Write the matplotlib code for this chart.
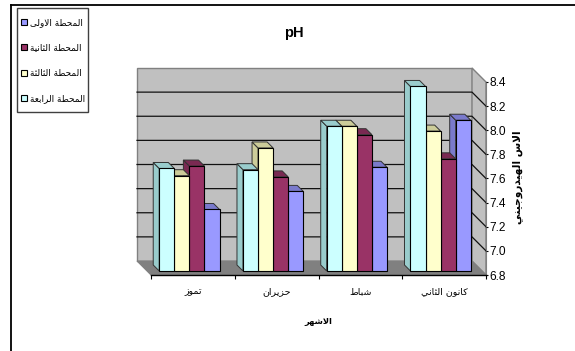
import matplotlib
matplotlib.use("Agg")
import matplotlib.pyplot as plt
from matplotlib.lines import Line2D
from matplotlib.patches import Polygon, Patch, Rectangle
from matplotlib.transforms import IdentityTransform, Affine2D

# pH readings per month, one list per station
months = ["تموز", "حزيران", "شباط", "كانون الثاني"]
station1 = [7.31, 7.46, 7.66, 8.05]
station2 = [7.67, 7.58, 7.93, 7.73]
station3 = [7.59, 7.82, 8.00, 7.96]
station4 = [7.65, 7.64, 8.00, 8.33]
station_names = ["المحطة الاولى", "المحطة الثانية", "المحطة الثالثة", "المحطة الرابعة"]
y_ticks = [6.8, 7.0, 7.2, 7.4, 7.6, 7.8, 8.0, 8.2, 8.4]
title_text = "pH"
x_title = "الاشهر"
y_title = "الاس الهيدروجيني"

W, H = 575, 351

# Contextual shaping for Arabic: isolated code point of the presentation block per letter
_iso = {"ا": 0xFE8D, "ب": 0xFE8F, "ة": 0xFE93, "ت": 0xFE95, "ث": 0xFE99, "ج": 0xFE9D,
        "ح": 0xFEA1, "د": 0xFEA9, "ر": 0xFEAD, "ز": 0xFEAF, "ش": 0xFEB5, "ط": 0xFEC1,
        "ع": 0xFEC9, "ك": 0xFED9, "ل": 0xFEDD, "م": 0xFEE1, "ن": 0xFEE5, "ه": 0xFEE9,
        "و": 0xFEED, "ى": 0xFEEF, "ي": 0xFEF1, "أ": 0xFE83}
_two_form = set("اأدرزوةى")


def shape(text):
    """Return Arabic text as joined presentation forms in visual order."""
    out = []
    for i, ch in enumerate(text):
        if ch not in _iso:
            out.append(ch)
            continue
        prev = text[i - 1] if i else " "
        nxt = text[i + 1] if i + 1 < len(text) else " "
        joins_prev = prev in _iso and prev not in _two_form
        joins_next = nxt in _iso and ch not in _two_form
        # lam followed by alef becomes a single ligature
        if ch == "ا" and prev == "ل":
            continue
        if ch == "ل" and nxt == "ا":
            out.append(chr(0xFEFC if joins_prev else 0xFEFB))
            continue
        base = _iso[ch]
        if joins_prev and joins_next:
            out.append(chr(base + 3))
        elif joins_prev:
            out.append(chr(base + 1))
        elif joins_next:
            out.append(chr(base + 2))
        else:
            out.append(chr(base))
    return "".join(reversed(out))


latin = "Liberation Sans"
arabic = "DejaVu Sans"

fig = plt.figure(figsize=(W / 100, H / 100), dpi=100, facecolor="white")


def fx(px):
    return px / W


def fy(py):
    return 1 - py / H


# Front plane of the box: axis line at the bottom, value axis on the right
left, right, top, bottom = 151, 486, 82, 275
ax = fig.add_axes([fx(left), fy(bottom), fx(right - left), (bottom - top) / H])
ax.set_xlim(0, len(months))
ax.set_ylim(y_ticks[0], y_ticks[-1])
ax.patch.set_visible(False)
for name in ("top", "left"):
    ax.spines[name].set_visible(False)
ax.spines["right"].set_color("#808080")
ax.spines["bottom"].set_linewidth(1.0)
ax.spines["right"].set_zorder(1)
ax.spines["bottom"].set_zorder(1)

ax.yaxis.tick_right()
ax.set_yticks(y_ticks)
ax.set_yticklabels([f"{v:.1f}" for v in y_ticks], fontfamily=latin, fontsize=8.6)
ax.tick_params(axis="y", length=1.5, width=0.8, pad=1)
ax.set_xticks(range(len(months) + 1))
ax.set_xticklabels([])
ax.set_xticks([i + 0.5 for i in range(len(months))], minor=True)
ax.set_xticklabels([shape(m) for m in months], minor=True, fontfamily=arabic, fontsize=6.8)
ax.tick_params(axis="x", which="major", length=3, width=0.8)
ax.tick_params(axis="x", which="minor", length=0, pad=9)


def project(x, v, depth):
    """Display position of a data point pushed back by depth pixels."""
    px, py = ax.transData.transform((x, v))
    return (px - depth, py + depth)


def face(points, color, edge="#555555", lw=0.7, z=1.0):
    ax.add_patch(Polygon(points, closed=True, facecolor=color, edgecolor=edge, linewidth=lw,
                         transform=IdentityTransform(), clip_on=False, zorder=z))


# Box walls, floor and gridlines
wall_d = 14
vmin, vmax = y_ticks[0], y_ticks[-1]
nx = len(months)
face([project(0, vmin, wall_d), project(nx, vmin, wall_d), project(nx, vmax, wall_d), project(0, vmax, wall_d)],
     "#C0C0C0", edge="#808080", lw=1.0, z=0.1)
face([project(nx, vmin, wall_d), project(nx, vmin, 0), project(nx, vmax, 0), project(nx, vmax, wall_d)],
     "#C0C0C0", edge="#808080", lw=1.0, z=0.2)
face([project(0, vmin, wall_d), project(nx, vmin, wall_d), project(nx, vmin, 0), project(0, vmin, 0)],
     "#808080", edge="#808080", lw=0.8, z=0.3)
for v in y_ticks[1:-1]:
    a, b, c = project(0, v, wall_d), project(nx, v, wall_d), project(nx, v, 0)
    ax.add_line(Line2D([a[0], b[0], c[0]], [a[1], b[1], c[1]], color="#111111", lw=0.9,
                       transform=IdentityTransform(), clip_on=False, zorder=0.25))

# Bars: leftmost series is the fourth station, the nearest faces are drawn last
series = [station4, station3, station2, station1]
front_colors = ["#CCFFFF", "#FFFFCC", "#993366", "#9999FF"]
shade_colors = ["#99CCCC", "#CCCC99", "#7A2952", "#7A7ACC"]
bar_w = 0.18
bar_front, bar_back = 4, 10
shift = Affine2D().translate(-bar_front, bar_front)
z = 10.0
for m in reversed(range(nx)):
    for s in reversed(range(4)):
        val = series[s][m]
        x0 = m + 0.5 + 0.006 + (s - 2) * bar_w
        x1 = x0 + bar_w
        face([project(x0, vmin, bar_front), project(x0, vmin, bar_back),
              project(x0, val, bar_back), project(x0, val, bar_front)],
             shade_colors[s], edge="#333333", z=z)
        face([project(x0, val, bar_front), project(x0, val, bar_back),
              project(x1, val, bar_back), project(x1, val, bar_front)],
             shade_colors[s], edge="#333333", z=z + 0.1)
        ax.bar(x0, val - vmin, width=bar_w, bottom=vmin, align="edge", color=front_colors[s],
               edgecolor="black", linewidth=0.8, transform=ax.transData + shift, clip_on=False,
               zorder=z + 0.2)
        z += 1

# Sheet border: only the top and left rules are present
fig.add_artist(Line2D([fx(11), 1], [fy(5), fy(5)], color="black", lw=1.3))
fig.add_artist(Line2D([fx(11), fx(11)], [fy(5), 0], color="black", lw=1.3))

# Titles
fig.text(fx(293.5), fy(32), title_text, fontfamily=latin, fontweight="bold", fontsize=10.5,
         ha="center", va="center_baseline")
fig.text(fx(318), fy(321), shape(x_title), fontfamily=arabic, fontweight="bold", fontsize=6.0,
         ha="center", va="center")
fig.text(fx(518), fy(177), shape(y_title), fontfamily=arabic, fontweight="bold", fontsize=7.6,
         rotation=90, ha="center", va="center")

# Legend box on the upper left, with the rows placed inside it
fig.add_artist(Rectangle((fx(17), fy(111.5)), fx(70.5), (111.5 - 8.5) / H, transform=fig.transFigure,
                         facecolor="white", edgecolor="#404040", linewidth=1.0))
handles = [Patch(facecolor=front_colors[3 - i], edgecolor="black", linewidth=0.8, label=shape(n))
           for i, n in enumerate(station_names)]
leg = fig.legend(handles=handles, loc="upper left", bbox_to_anchor=(fx(21), fy(17.8)),
                 prop={"family": arabic, "size": 6.4}, frameon=False,
                 borderpad=0, labelspacing=1.86, handlelength=0.67, handleheight=0.67,
                 handletextpad=0.33, borderaxespad=0)

fig.savefig("out.png", dpi=100)
